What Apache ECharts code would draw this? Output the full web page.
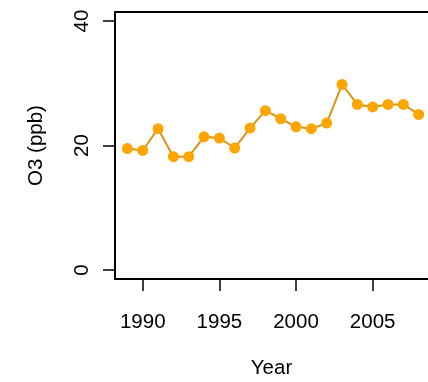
<!DOCTYPE html>
<html>
<head>
<meta charset="utf-8">
<script src="https://cdn.jsdelivr.net/npm/echarts@6/dist/echarts.min.js"></script>
<style>html,body{margin:0;padding:0;background:#fff;}#c{width:428px;height:382px;}</style>
</head>
<body>
<div id="c"></div>
<script>
var years = [1989,1990,1991,1992,1993,1994,1995,1996,1997,1998,1999,2000,2001,2002,2003,2004,2005,2006,2007,2008];
var o3 = [19.5,19.2,22.7,18.2,18.2,21.4,21.2,19.6,22.8,25.6,24.3,23.0,22.7,23.6,29.8,26.6,26.2,26.6,26.6,25.0];
var xTicks = [1990,1995,2000,2005];
var yTicks = [0,20,40];

var FONT = 'Liberation Sans';
var FS = 20.5;
var chart = echarts.init(document.getElementById('c'), null, {renderer:'canvas'});
chart.setOption({
  animation: false,
  backgroundColor: '#fff',
  grid: {left:115, top:12, right:0, bottom:103, show:false, containLabel:false, outerBoundsMode:'none'},
  xAxis: [{
    type:'value', min:1988.19, max:2008.61, position:'bottom',
    name:'Year', nameLocation:'middle', nameGap:79,
    nameTextStyle:{fontFamily:FONT, fontSize:FS, color:'#000'},
    splitLine:{show:false},
    axisLine:{show:true, onZero:false, lineStyle:{color:'#000', width:2}},
    axisTick:{show:true, length:12, lineStyle:{color:'#000', width:1.5}, customValues:xTicks},
    axisLabel:{fontFamily:FONT, fontSize:FS, color:'#000', margin:33, customValues:xTicks, formatter:function(v){return String(v);}}
  },{
    type:'value', min:1988.19, max:2008.61, position:'top',
    splitLine:{show:false},
    axisLine:{show:true, onZero:false, lineStyle:{color:'#000', width:2}},
    axisTick:{show:false}, axisLabel:{show:false}
  }],
  yAxis: {
    type:'value', min:-1.45, max:41.45,
    name:'O3 (ppb)', nameLocation:'middle', nameGap:68, nameRotate:90,
    nameTextStyle:{fontFamily:FONT, fontSize:FS, color:'#000'},
    splitLine:{show:false},
    axisLine:{show:true, onZero:false, lineStyle:{color:'#000', width:2}},
    axisTick:{show:true, length:12, lineStyle:{color:'#000', width:1.5}, customValues:yTicks},
    axisLabel:{fontFamily:FONT, fontSize:FS, color:'#000', margin:22, rotate:90, customValues:yTicks}
  },
  series: [{
    type:'line', xAxisIndex:0,
    data: years.map(function(y,i){return [y, o3[i]];}),
    symbol:'circle', symbolSize:11,
    lineStyle:{color:'#DB9412', width:2},
    itemStyle:{color:'#FFA500', borderWidth:0}
  }]
});
</script>
</body>
</html>
